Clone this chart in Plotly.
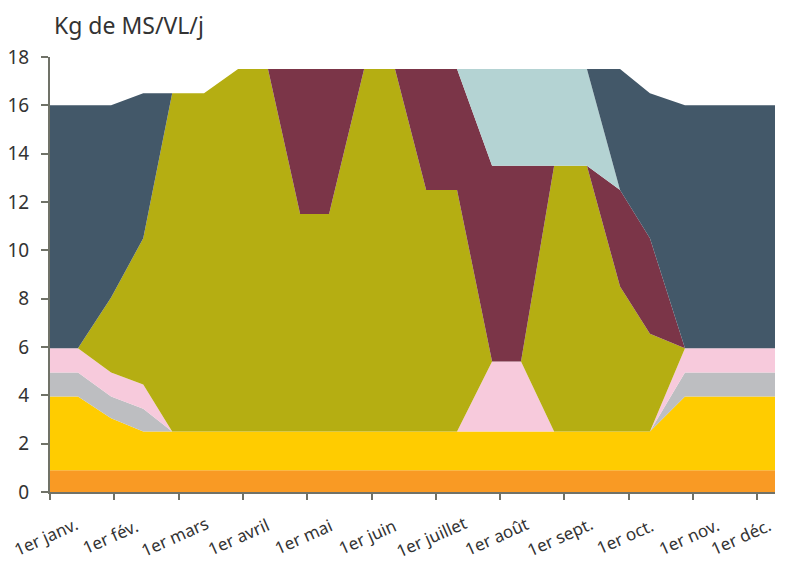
import plotly.graph_objects as go

# x positions of the data points, in months from 1 Jan
x_months = [0, 0.435, 0.95, 1.45, 1.9, 2.395, 2.925, 3.39, 3.89, 4.34, 4.885,
            5.365, 5.85, 6.33, 6.875, 7.325, 7.84, 8.35, 8.865, 9.33, 9.875, 11.275]

# stacked layers, bottom to top (Kg de MS/VL/j)
orange = [0.9] * 22
yellow = [3.05, 3.05, 2.15, 1.6, 1.6, 1.6, 1.6, 1.6, 1.6, 1.6, 1.6,
          1.6, 1.6, 1.6, 1.6, 1.6, 1.6, 1.6, 1.6, 1.6, 3.05, 3.05]
grey = [1.0, 1.0, 0.9, 0.95, 0, 0, 0, 0, 0, 0, 0,
        0, 0, 0, 0, 0, 0, 0, 0, 0, 1.0, 1.0]
pink = [1.0, 1.0, 1.0, 1.0, 0, 0, 0, 0, 0, 0, 0,
        0, 0, 0, 2.9, 2.9, 0, 0, 0, 0, 1.0, 1.0]
olive = [0, 0, 3.1, 6.05, 14.0, 14.0, 15.0, 15.0, 9.0, 9.0, 15.0,
         15.0, 10.0, 10.0, 0, 0, 11.0, 11.0, 6.0, 4.05, 0, 0]
maroon = [0, 0, 0, 0, 0, 0, 0, 0, 6.0, 6.0, 0,
          0, 5.0, 5.0, 8.1, 8.1, 0, 0, 4.0, 3.95, 0, 0]
lightblue = [0, 0, 0, 0, 0, 0, 0, 0, 0, 0, 0,
             0, 0, 0, 4.0, 4.0, 4.0, 4.0, 0, 0, 0, 0]
slate = [10.05, 10.05, 7.95, 6.0, 0, 0, 0, 0, 0, 0, 0,
         0, 0, 0, 0, 0, 0, 0, 5.0, 6.0, 10.05, 10.05]

month_labels = ["1er janv.", "1er fév.", "1er mars", "1er avril", "1er mai", "1er juin",
                "1er juillet", "1er août", "1er sept.", "1er oct.", "1er nov.", "1er déc."]
y_ticks = [0, 2, 4, 6, 8, 10, 12, 14, 16, 18]

layers = [
    ("orange", orange, "#F99A24"),
    ("yellow", yellow, "#FFCC00"),
    ("grey", grey, "#BDBEC1"),
    ("pink", pink, "#F7CADC"),
    ("olive", olive, "#B5AE12"),
    ("maroon", maroon, "#7B3548"),
    ("lightblue", lightblue, "#B4D3D3"),
    ("slate", slate, "#435869"),
]

fig = go.Figure()
for name, vals, col in layers:
    fig.add_trace(go.Scatter(
        x=x_months, y=vals, name=name, mode="lines", stackgroup="one",
        line=dict(width=0, color=col), fillcolor=col, hoverinfo="skip",
        showlegend=False))

FONT = "Noto Sans"
axis_col = "#707268"

n_lab = len(month_labels)
for i, lab in enumerate(month_labels):
    fig.add_annotation(x=i, y=-0.102, xref="x", yref="paper", text=lab,
                       showarrow=False, textangle=-24, xanchor="center",
                       yanchor="middle", xshift=-4 if i < n_lab - 1 else -16,
                       font=dict(family=FONT, size=17, color="#333333"))

fig.add_annotation(x=0.003, y=1.073, xref="paper", yref="paper",
                   text="Kg de MS/VL/j", showarrow=False, xanchor="left",
                   yanchor="middle", font=dict(family=FONT, size=23, color="#333333"))

# the page body has an 8 px margin: the figure is sized and offset to compensate
fig.update_layout(
    width=777, height=553,
    margin=dict(l=42, r=10, t=49, b=69),
    paper_bgcolor="white", plot_bgcolor="white",
    showlegend=False,
    xaxis=dict(range=[0, 11.275], tickvals=list(range(12)), ticktext=[""] * 12,
               showgrid=False, zeroline=False, showline=True, linecolor=axis_col,
               linewidth=2, ticks="outside", ticklen=6, tickwidth=2,
               tickcolor=axis_col, automargin=False),
    yaxis=dict(range=[0, 18], tickvals=y_ticks, showgrid=False, zeroline=False,
               showline=True, linecolor=axis_col, linewidth=2, ticks="outside",
               ticklen=7, tickwidth=2, tickcolor=axis_col, ticklabelstandoff=8,
               automargin=False,
               tickfont=dict(family=FONT, size=19, color="#333333")),
)

fig.write_html("out.html")
